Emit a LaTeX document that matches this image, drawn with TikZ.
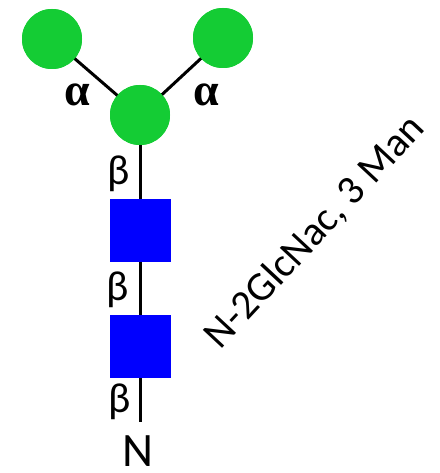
\documentclass[tikz,border=0pt]{standalone}
\usepackage{fontspec}
\setmainfont{Carlito}
\newfontfamily\alphafont{Liberation Serif}
\definecolor{mangreen}{RGB}{20,204,52}
\definecolor{glcblue}{RGB}{0,0,255}
\begin{document}
\begin{tikzpicture}[x=1pt,y=-1pt,
  man/.style={circle,fill=mangreen,minimum size=60pt,inner sep=0pt},
  glc/.style={rectangle,fill=glcblue,minimum width=61pt,minimum height=63pt,inner sep=0pt},
  bond/.style={line width=3pt,black},
  alab/.style={font=\alphafont\bfseries\fontsize{46}{46}\selectfont,inner sep=0pt},
  blab/.style={font=\fontsize{42}{42}\selectfont,inner sep=0pt}]
\useasboundingbox (0,0) rectangle (439,473);
\node[man] (m1) at (52,39) {};
\node[man] (m2) at (223,38) {};
\node[man] (m0) at (140,115) {};
\node[glc] (g1) at (140,230) {};
\node[glc] (g2) at (140,346) {};
\coordinate (end) at (140,422);
\draw[bond] (m1.center) -- (m0.center);
\draw[bond] (m2.center) -- (m0.center);
\draw[bond] (m0.center) -- (g1.center);
\draw[bond] (g1.center) -- (g2.center);
\draw[bond] (g2.center) -- (end);
\node[man] at (m1) {};
\node[man] at (m2) {};
\node[man] at (m0) {};
\node[glc] at (g1) {};
\node[glc] at (g2) {};
\node[alab] (a1) at (77,95) {α};
\node[alab] (a2) at (206,95) {α};
\node[blab] (b1) at (119,174) {β};
\node[blab] (b2) at (118,290) {β};
\node[blab] (b3) at (120,402) {β};
\node[font=\fontsize{48}{48}\selectfont,inner sep=0pt] (n) at (138,451) {N};
\node[font=\fontsize{41}{41}\selectfont,inner sep=0pt,rotate=47] (t) at (315,232) {N-2GlcNac, 3 Man};
\end{tikzpicture}
\end{document}
